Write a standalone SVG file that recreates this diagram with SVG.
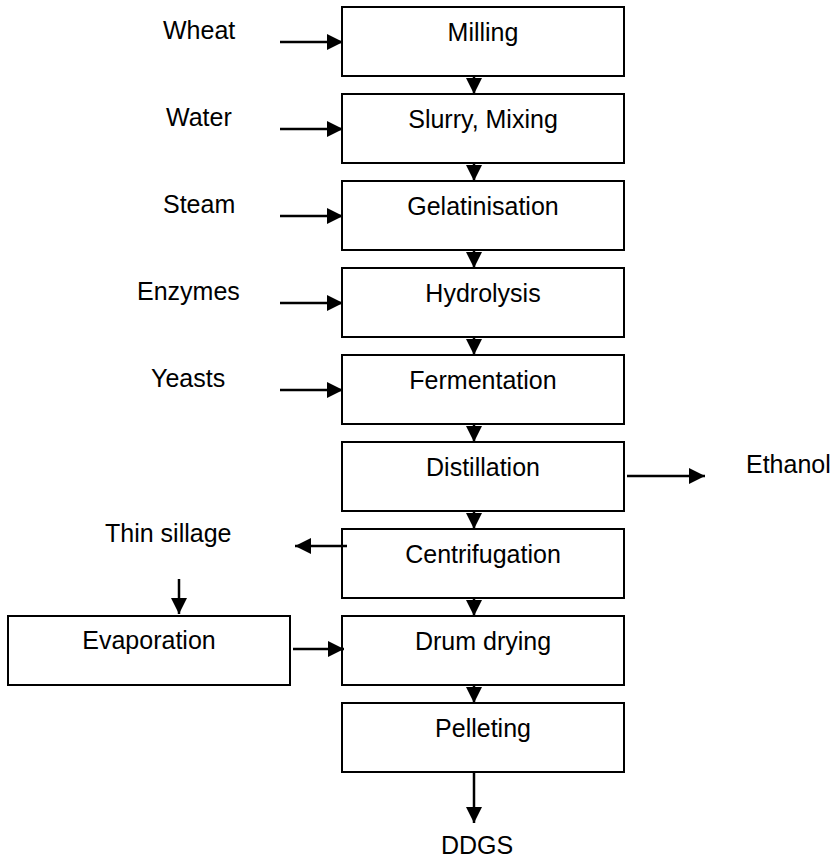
<svg xmlns="http://www.w3.org/2000/svg" width="838" height="859" viewBox="0 0 838 859">
<style>
.box{fill:#fff;stroke:#000;stroke-width:2}
.t{font-family:"Liberation Sans",Arial,sans-serif;font-size:25px;fill:#000}
.c{text-anchor:middle}
.ln{stroke:#000;stroke-width:2.5;fill:none;marker-end:url(#ah)}
</style>
<defs>
<marker id="ah" markerUnits="userSpaceOnUse" markerWidth="16" markerHeight="16" refX="16" refY="8" orient="auto" viewBox="0 0 16 16">
<path d="M0,0 L16,8 L0,16 z" fill="#000"/>
</marker>
</defs>
<rect width="838" height="859" fill="#fff"/>
<g id="milling"><rect class="box" x="342" y="7" width="282" height="69"/><text class="t c" x="483" y="41">Milling</text></g>
<g id="slurry"><rect class="box" x="342" y="94" width="282" height="69"/><text class="t c" x="483" y="128">Slurry, Mixing</text></g>
<g id="gelatinisation"><rect class="box" x="342" y="181" width="282" height="69"/><text class="t c" x="483" y="215">Gelatinisation</text></g>
<g id="hydrolysis"><rect class="box" x="342" y="268" width="282" height="69"/><text class="t c" x="483" y="302">Hydrolysis</text></g>
<g id="fermentation"><rect class="box" x="342" y="355" width="282" height="69"/><text class="t c" x="483" y="389">Fermentation</text></g>
<g id="distillation"><rect class="box" x="342" y="442" width="282" height="69"/><text class="t c" x="483" y="476">Distillation</text></g>
<g id="centrifugation"><rect class="box" x="342" y="529" width="282" height="69"/><text class="t c" x="483" y="563">Centrifugation</text></g>
<g id="drumdrying"><rect class="box" x="342" y="616" width="282" height="69"/><text class="t c" x="483" y="650">Drum drying</text></g>
<g id="pelleting"><rect class="box" x="342" y="703" width="282" height="69"/><text class="t c" x="483" y="737">Pelleting</text></g>
<g id="evaporation"><rect class="box" x="8" y="616" width="282" height="69"/><text class="t c" x="149" y="649">Evaporation</text></g>
<g id="wheat"><text class="t" x="163" y="39">Wheat</text></g>
<g id="water"><text class="t" x="166" y="126">Water</text></g>
<g id="steam"><text class="t" x="163" y="213">Steam</text></g>
<g id="enzymes"><text class="t" x="137" y="300">Enzymes</text></g>
<g id="yeasts"><text class="t" x="151" y="387">Yeasts</text></g>
<g id="ethanol"><text class="t" x="746" y="473">Ethanol</text></g>
<g id="thinsillage"><text class="t" x="105" y="542">Thin sillage</text></g>
<g id="ddgs"><text class="t c" x="477" y="854">DDGS</text></g>
<g id="connectors">
<line class="ln" x1="280" y1="42" x2="343" y2="42"/>
<line class="ln" x1="280" y1="129" x2="343" y2="129"/>
<line class="ln" x1="280" y1="216" x2="343" y2="216"/>
<line class="ln" x1="280" y1="303" x2="343" y2="303"/>
<line class="ln" x1="280" y1="390" x2="343" y2="390"/>
<line class="ln" x1="474" y1="76" x2="474" y2="94"/>
<line class="ln" x1="474" y1="163" x2="474" y2="181"/>
<line class="ln" x1="474" y1="250" x2="474" y2="268"/>
<line class="ln" x1="474" y1="337" x2="474" y2="355"/>
<line class="ln" x1="474" y1="424" x2="474" y2="442"/>
<line class="ln" x1="474" y1="511" x2="474" y2="529"/>
<line class="ln" x1="474" y1="598" x2="474" y2="616"/>
<line class="ln" x1="474" y1="685" x2="474" y2="703"/>
<line class="ln" x1="474" y1="772" x2="474" y2="823"/>
<line class="ln" x1="627" y1="476" x2="705" y2="476"/>
<line class="ln" x1="347" y1="546" x2="295" y2="546"/>
<line class="ln" x1="179" y1="579" x2="179" y2="614"/>
<line class="ln" x1="293" y1="649" x2="344" y2="649"/>
</g>
</svg>
